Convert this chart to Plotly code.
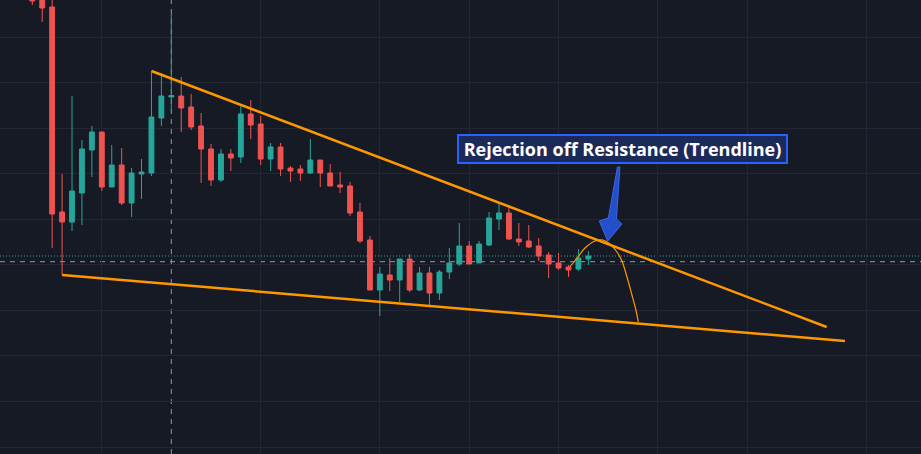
import plotly.graph_objects as go

# ---- data -------------------------------------------------------------
candle_index = list(range(57))
opens  = [504, 503, 493, 288, 278, 307, 350, 368, 313, 335, 297, 326, 327, 382, 403, 404, 393, 374, 351, 320,
          346, 343, 386, 376, 341, 353, 332, 331, 327, 340, 327, 315, 314, 288, 260, 210, 225, 220, 241, 210,
          227, 207, 228, 236, 254, 237, 255, 281, 287, 261, 259, 254, 245, 237, 233, 231, 241]
highs  = [508, 505, 510, 326, 404, 360, 374, 368, 355, 352, 332, 341, 429, 427, 486, 423, 406, 387, 356, 351,
          351, 395, 400, 384, 357, 357, 334, 335, 361, 340, 336, 328, 318, 297, 264, 233, 242, 241, 246, 233,
          233, 230, 252, 277, 259, 259, 288, 297, 295, 277, 275, 262, 248, 247, 235, 251, 249]
lows   = [495, 478, 252, 225, 269, 275, 323, 309, 313, 295, 283, 301, 324, 374, 389, 368, 370, 317, 314, 318,
          329, 337, 361, 335, 329, 324, 318, 319, 326, 313, 314, 307, 284, 257, 210, 184, 209, 198, 208, 209,
          193, 200, 221, 234, 236, 237, 254, 270, 260, 254, 252, 239, 222, 230, 223, 229, 235]
closes = [499, 492, 286, 278, 309, 351, 368, 313, 335, 297, 327, 328, 383, 404, 404.5, 392, 373, 351, 320, 346,
          342, 386, 375, 341, 353, 331, 329, 327, 340, 327, 314, 313, 287, 259, 210, 226, 220, 241, 210, 227,
          207, 228, 237, 254, 236, 256, 282, 287, 261, 258, 253, 244, 236, 232, 230, 242, 244]

# time-grid positions (candle index) and price grid
time_grid = [7, 23, 35, 44, 53, 63, 72, 84]
price_grid_start = 53
price_grid_step = 45.55

# drawings (candle index, price)
resistance_idx = [12, 80]
resistance_px = [429, 173]
support_idx = [3, 81.84]
support_px = [225, 159]
path_idx = [54.15, 54.95, 55.66, 56.66, 57.47, 58.17, 58.88, 59.38, 59.89, 60.39, 60.79, 61.03]
path_px = [233.3, 243, 252, 259, 260, 256, 248, 239, 223, 205, 190, 178]
arrow_idx = [58.93, 59.18, 58.83, 59.38, 57.95, 57.10, 58.02, 58.93]
arrow_px = [333, 333, 281, 276, 259, 279, 282, 333]
label_text = "Rejection off Resistance (Trendline)"
label_idx = 59.47
label_px = 350.7
crosshair_idx = 14
crosshair_px = 238.3

x_range = [-3.253, 89.50]
y_range = [46, 500]

UP = "#26A69A"
DOWN = "#EF5350"
BG = "#161A25"
GRID = "#232734"
ORANGE = "#FF9800"

fig = go.Figure()

fig.add_trace(go.Candlestick(
    x=candle_index, open=opens, high=highs, low=lows, close=closes,
    increasing=dict(line=dict(color=UP, width=1), fillcolor=UP),
    decreasing=dict(line=dict(color=DOWN, width=1), fillcolor=DOWN),
    whiskerwidth=0, showlegend=False, hoverinfo="skip",
))

fig.add_trace(go.Scatter(x=resistance_idx, y=resistance_px, mode="lines",
                         line=dict(color=ORANGE, width=2.5), showlegend=False, hoverinfo="skip"))
fig.add_trace(go.Scatter(x=support_idx, y=support_px, mode="lines",
                         line=dict(color=ORANGE, width=2.5), showlegend=False, hoverinfo="skip"))
fig.add_trace(go.Scatter(x=path_idx, y=path_px, mode="lines",
                         line=dict(color=ORANGE, width=1.2, shape="spline"), showlegend=False, hoverinfo="skip"))
fig.add_trace(go.Scatter(x=arrow_idx, y=arrow_px, mode="lines", fill="toself",
                         fillcolor="rgba(41,98,255,0.75)", line=dict(color="#3a66ee", width=1),
                         showlegend=False, hoverinfo="skip"))

# crosshair and last-price lines
fig.add_shape(type="line", xref="x", yref="paper", x0=crosshair_idx, x1=crosshair_idx, y0=0, y1=1,
              line=dict(color="#9598A1", width=1, dash="5px,5px"), layer="below")
fig.add_shape(type="line", xref="paper", yref="y", x0=0, x1=1, y0=crosshair_px, y1=crosshair_px,
              line=dict(color="#9598A1", width=1, dash="5px,5px"), layer="below")
fig.add_shape(type="line", xref="paper", yref="y", x0=0, x1=1, y0=closes[-1], y1=closes[-1],
              line=dict(color=UP, width=1, dash="1px,2px"), layer="below")

fig.add_annotation(x=label_idx, y=label_px, xref="x", yref="y", text=label_text, showarrow=False,
                   font=dict(family="Open Sans", size=18, color="#FFFFFF", weight="bold"),
                   bgcolor="#1c2a5a", bordercolor="#2962FF", borderwidth=2, borderpad=1,
                   width=325, height=24)

fig.update_layout(
    width=921, height=454, margin=dict(l=0, r=0, t=0, b=0),
    paper_bgcolor=BG, plot_bgcolor=BG,
    xaxis=dict(range=x_range, tickmode="array", tickvals=time_grid, showticklabels=False,
               showgrid=True, gridcolor=GRID, gridwidth=1, zeroline=False, showline=False,
               rangeslider=dict(visible=False), fixedrange=True),
    yaxis=dict(range=y_range, tickmode="linear", tick0=price_grid_start, dtick=price_grid_step,
               showticklabels=False, showgrid=True, gridcolor=GRID, gridwidth=1,
               zeroline=False, showline=False, fixedrange=True),
    hovermode=False,
)

fig.write_html("out.html", config={"displayModeBar": False})
